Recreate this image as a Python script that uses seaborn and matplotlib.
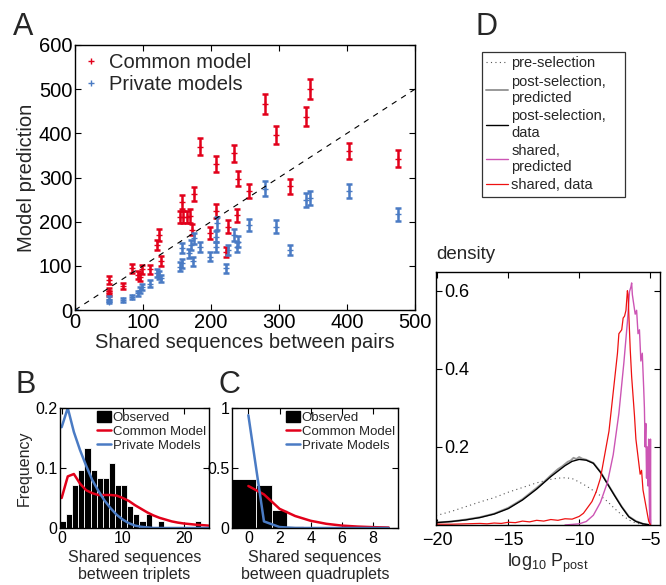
import numpy as np
import matplotlib
matplotlib.use('Agg')
import matplotlib.pyplot as plt
import seaborn as sns
from matplotlib.lines import Line2D
from matplotlib.patches import Patch

# ---- panel A: pairs, model prediction vs observed
common_x = [50, 50, 50, 70, 84, 93, 96, 98, 111, 120, 124, 127, 154, 158, 159, 164, 169, 172,
            175, 184, 198, 208, 208, 222, 225, 234, 238, 240, 256, 279, 295, 316, 340, 346, 403, 475]
common_y = [68, 43, 38, 55, 94, 79, 75, 92, 92, 147, 170, 111, 210, 245, 210, 210, 213, 182,
            263, 370, 174, 330, 224, 132, 189, 355, 214, 297, 270, 466, 396, 280, 438, 500, 360, 343]
common_err = [8, 7, 6, 7, 10, 9, 9, 10, 10, 12, 13, 11, 14, 16, 14, 14, 15, 13,
              16, 19, 13, 18, 15, 11, 14, 19, 15, 17, 16, 22, 20, 17, 21, 22, 19, 19]

private_x = [0, 50, 50, 70, 84, 93, 96, 98, 111, 120, 124, 127, 154, 158, 158, 168, 171, 174, 175,
             184, 198, 208, 209, 208, 222, 225, 234, 238, 240, 256, 279, 295, 316, 340, 346, 403, 475]
private_y = [0, 26, 19, 23, 30, 38, 45, 53, 60, 83, 79, 72, 98, 106, 140, 128, 147, 110, 162,
             143, 121, 166, 196, 143, 94, 136, 170, 143, 155, 192, 275, 189, 136, 249, 253, 270, 217]
private_err = [0, 5, 4, 5, 5, 6, 7, 7, 8, 9, 9, 8, 10, 10, 12, 11, 12, 10, 13,
               12, 11, 13, 14, 12, 10, 12, 13, 12, 12, 14, 17, 14, 12, 16, 16, 16, 15]
diag = [0, 500]

# ---- panel B: triplets
triplet_freq = [0.012, 0.024, 0.072, 0.096, 0.133, 0.096, 0.084, 0.084, 0.108, 0.072, 0.072, 0.036,
                0.024, 0.012, 0.024, 0, 0.012, 0, 0, 0, 0, 0, 0.012]
triplet_common = [0.05, 0.086, 0.09, 0.074, 0.063, 0.058, 0.055, 0.055, 0.055, 0.054, 0.05, 0.045, 0.038,
                  0.032, 0.026, 0.021, 0.017, 0.014, 0.011, 0.009, 0.0075, 0.0065, 0.0055, 0.0048, 0.004]
triplet_private = [0.168, 0.2, 0.16, 0.13, 0.104, 0.08, 0.062, 0.046, 0.033, 0.022, 0.014, 0.008, 0.004,
                   0.002, 0.001, 0, 0, 0, 0, 0, 0, 0, 0, 0, 0]

# ---- panel C: quadruplets
quad_freq = [0.41, 0.36, 0.15, 0.02, 0.01, 0.01]
quad_common = [0.35, 0.28, 0.16, 0.1, 0.06, 0.035, 0.02, 0.012, 0.007, 0.004]
quad_private = [0.94, 0.055, 0.008, 0, 0, 0, 0, 0, 0, 0]

# ---- panel D: log10 Ppost densities
pre_x = [-20.1, -19, -18, -17, -16, -15, -14, -13, -12, -11.5, -11, -10.5, -10, -9.5, -9, -8.5,
         -8, -7.5, -7, -6.5, -6, -5.5, -5]
pre_y = [0.024, 0.035, 0.047, 0.059, 0.07, 0.084, 0.096, 0.108, 0.117, 0.12, 0.121, 0.119, 0.11,
         0.1, 0.088, 0.075, 0.06, 0.042, 0.026, 0.013, 0.005, 0.001, 0]

post_x = [-20.1, -19, -18, -17, -16, -15, -14, -13, -12, -11, -10.5, -10, -9.5, -9, -8.5, -8,
          -7.5, -7, -6.5, -6, -5.5, -5]
post_y = [0.006, 0.009, 0.013, 0.019, 0.028, 0.042, 0.064, 0.092, 0.124, 0.152, 0.163, 0.168, 0.166,
          0.158, 0.135, 0.105, 0.075, 0.046, 0.021, 0.009, 0.003, 0]

postpred_x = [-20.1, -19, -18, -17, -16, -15, -14, -13, -12.5, -12, -11.5, -11.2, -10.8, -10.6, -10.4,
              -10.2, -10, -9.8, -9.5, -9, -8.5, -8, -7.5, -7, -6.5, -6, -5.5, -5]
postpred_y = [0.006, 0.009, 0.014, 0.02, 0.029, 0.044, 0.066, 0.095, 0.11, 0.127, 0.143, 0.15, 0.162,
              0.165, 0.172, 0.169, 0.174, 0.17, 0.167, 0.159, 0.136, 0.106, 0.076, 0.047, 0.022, 0.01,
              0.003, 0]

sharedpred_x = [-11, -10, -9.5, -9, -8.5, -8, -7.6, -7.2, -6.85, -6.6, -6.45, -6.35, -6.3, -6.25,
                -6.15, -6.05, -5.95, -5.85, -5.75, -5.65, -5.55, -5.45, -5.4, -5.35, -5.3, -5.25,
                -5.2, -5.15, -5.1, -5.05, -5.0, -4.97, -4.95]
sharedpred_y = [0, 0.003, 0.009, 0.025, 0.058, 0.11, 0.18, 0.286, 0.415, 0.52, 0.598, 0.61, 0.62, 0.59,
                0.565, 0.54, 0.55, 0.49, 0.5, 0.42, 0.44, 0.35, 0.3, 0.2, 0.26, 0.12, 0.2, 0.1, 0.22,
                0.05, 0.0, 0.22, 0.0]

shared_x = [-20.1, -19, -18, -17, -16.5, -16, -15.5, -15, -14.5, -14, -13.5, -13, -12.5, -12, -11.5,
            -11, -10.5, -10, -9.7, -9.4, -9.1, -8.8, -8.5, -8.3, -8.1, -7.9, -7.75, -7.6, -7.45, -7.3,
            -7.2, -7.0, -6.9, -6.8, -6.7, -6.6, -6.55, -6.5, -6.4, -6.3, -6.2, -6.1, -6.0, -5.9, -5.8,
            -5.7, -5.6, -5.5, -5.4, -5.3, -5.2, -5.1, -4.97]
shared_y = [0.002, 0.002, 0.003, 0.004, 0.003, 0.005, 0.004, 0.007, 0.006, 0.01, 0.008, 0.012, 0.01,
            0.014, 0.012, 0.016, 0.015, 0.022, 0.03, 0.045, 0.06, 0.085, 0.12, 0.16, 0.2, 0.24, 0.29,
            0.34, 0.39, 0.44, 0.49, 0.5, 0.53, 0.535, 0.55, 0.6, 0.59, 0.54, 0.45, 0.38, 0.33, 0.28,
            0.22, 0.19, 0.16, 0.13, 0.14, 0.09, 0.07, 0.05, 0.03, 0.01, 0]

red = '#e2001a'
blue = '#4a7bc4'
magenta = '#cc55b4'

sns.set_style('ticks')
plt.rcParams['font.family'] = ['Liberation Sans', 'DejaVu Sans']
plt.rcParams['mathtext.fontset'] = 'custom'
plt.rcParams['mathtext.rm'] = 'Liberation Sans'
plt.rcParams['axes.linewidth'] = 1.0
plt.rcParams['axes.edgecolor'] = 'black'

W, H = 666, 585
fig = plt.figure(figsize=(W / 100, H / 100), dpi=100)


def box(l, t, r, b):
    return [l / W, 1 - b / H, (r - l) / W, (b - t) / H]


def matlab_ticks(ax, size):
    ax.tick_params(direction='in', top=True, right=True, length=4, width=0.8,
                   labelsize=size, color='black', labelcolor='black', pad=2)


# ---------------- A
axA = fig.add_axes(box(75, 45, 415, 310))
axA.errorbar(common_x, common_y, yerr=common_err, fmt='none', ecolor=red, elinewidth=1.8,
             capsize=2.5, capthick=1.8)
axA.errorbar(private_x, private_y, yerr=private_err, fmt='none', ecolor=blue, elinewidth=1.8,
             capsize=2.5, capthick=1.8)
sns.scatterplot(x=common_x, y=common_y, ax=axA, marker='+', color=red, s=25, linewidth=1)
sns.scatterplot(x=private_x, y=private_y, ax=axA, marker='+', color=blue, s=25, linewidth=1)
sns.lineplot(x=diag, y=diag, ax=axA, color='black', lw=0.8, linestyle=(0, (5, 5)))
axA.set_xlim(0, 500)
axA.set_ylim(0, 600)
axA.set_xticks(range(0, 501, 100))
axA.set_yticks(range(0, 601, 100))
matlab_ticks(axA, 14.5)
axA.set_xlabel('Shared sequences between pairs', fontsize=14.5, labelpad=1)
axA.set_ylabel('Model prediction', fontsize=14.5, labelpad=2)
handles = [Line2D([], [], color=red, marker='+', ls='none', ms=5, mew=1),
           Line2D([], [], color=blue, marker='+', ls='none', ms=5, mew=1)]
axA.legend(handles, ['Common model', 'Private models'], loc='upper left', frameon=False,
           fontsize=14.5, handlelength=0.8, handletextpad=0.5, borderaxespad=0.2,
           borderpad=0.2, labelspacing=0.15)

leg_handles = [Patch(facecolor='black', edgecolor='black'),
               Line2D([], [], color=red, lw=1.8), Line2D([], [], color=blue, lw=1.8)]
leg_labels = ['Observed', 'Common Model', 'Private Models']


def small_legend(ax):
    ax.legend(leg_handles, leg_labels, loc='upper right', frameon=False, fontsize=9.5,
              handlelength=1.1, handleheight=0.9, handletextpad=0.1, borderaxespad=0.15,
              borderpad=0.1, labelspacing=0.08)


# ---------------- B
axB = fig.add_axes(box(60, 408, 209, 528))
axB.bar(np.arange(len(triplet_freq)) + 0.23, triplet_freq, width=1, color='black',
        edgecolor='white', linewidth=0.6)
sns.lineplot(x=range(len(triplet_common)), y=triplet_common, ax=axB, color=red, lw=1.8)
sns.lineplot(x=range(len(triplet_private)), y=triplet_private, ax=axB, color=blue, lw=1.8)
axB.set_xlim(-0.27, 24.1)
axB.set_ylim(0, 0.2)
axB.set_xticks([0, 10, 20])
axB.set_yticks([0, 0.1, 0.2])
axB.set_yticklabels(['0', '0.1', '0.2'])
matlab_ticks(axB, 11.5)
axB.set_xlabel('Shared sequences\nbetween triplets', fontsize=11.5, labelpad=3, linespacing=1.15)
axB.set_ylabel('Frequency', fontsize=11.5, labelpad=2)
small_legend(axB)

# ---------------- C (first bin runs out to the left edge)
axC = fig.add_axes(box(232, 408, 398, 528))
quad_left = np.arange(len(quad_freq)) - 0.5
quad_left[0] = -1.05
quad_width = np.arange(len(quad_freq)) + 0.5 - quad_left
axC.bar(quad_left, quad_freq, width=quad_width, align='edge', color='black',
        edgecolor='white', linewidth=0.6)
sns.lineplot(x=range(len(quad_common)), y=quad_common, ax=axC, color=red, lw=1.8)
sns.lineplot(x=range(len(quad_private)), y=quad_private, ax=axC, color=blue, lw=1.8)
axC.set_xlim(-1.05, 9.6)
axC.set_ylim(0, 1)
axC.set_xticks([0, 2, 4, 6, 8])
axC.set_yticks([0, 0.5, 1])
axC.set_yticklabels(['0', '0.5', '1'])
matlab_ticks(axC, 11.5)
axC.set_xlabel('Shared sequences\nbetween quadruplets', fontsize=11.5, labelpad=3, linespacing=1.15)
small_legend(axC)

# ---------------- D
axD = fig.add_axes(box(436, 272, 660, 525))
sns.lineplot(x=pre_x, y=pre_y, ax=axD, color='#555555', lw=0.8, linestyle=(0, (1, 3)),
             estimator=None, label='pre-selection', legend=False)
sns.lineplot(x=postpred_x, y=postpred_y, ax=axD, color='#999999', lw=1.4, estimator=None,
             label='post-selection,\npredicted', legend=False)
sns.lineplot(x=post_x, y=post_y, ax=axD, color='black', lw=1.0, estimator=None,
             label='post-selection,\ndata', legend=False)
sns.lineplot(x=sharedpred_x, y=sharedpred_y, ax=axD, color=magenta, lw=1.0, estimator=None,
             label='shared,\npredicted', legend=False)
sns.lineplot(x=shared_x, y=shared_y, ax=axD, color='#ee1111', lw=0.9, estimator=None,
             label='shared, data', legend=False)
axD.set_xlim(-20.1, -4.3)
axD.set_ylim(0, 0.648)
axD.set_xticks([-20, -15, -10, -5])
axD.set_yticks([0.2, 0.4, 0.6])
matlab_ticks(axD, 13)
axD.tick_params(axis='y', pad=-6)
plt.setp(axD.get_yticklabels(), ha='left')
axD.tick_params(axis='x', pad=5)
axD.set_xlabel(r'log$_{\mathregular{10}}$ P$_{\mathregular{post}}$', fontsize=13, labelpad=2)
axD.text(0, 1.035, 'density', transform=axD.transAxes, fontsize=13.5, ha='left', va='bottom')
h, l = axD.get_legend_handles_labels()
leg = fig.legend(h, l, loc='upper left', mode='expand',
                 bbox_to_anchor=(482 / W, 1 - 201 / H, 143 / W, 149 / H), fontsize=10.5,
                 frameon=True, fancybox=False, edgecolor='black', handlelength=1.5,
                 handletextpad=0.2, borderpad=0.3, labelspacing=0.3, borderaxespad=0)
leg.get_frame().set_linewidth(0.9)

# panel letters
for letter, x, y in [('A', 13, 35), ('B', 15, 393), ('C', 218, 393), ('D', 475, 35)]:
    fig.text(x / W, 1 - y / H, letter, fontsize=22, va='baseline', ha='left')

fig.savefig('out.png', dpi=100)
